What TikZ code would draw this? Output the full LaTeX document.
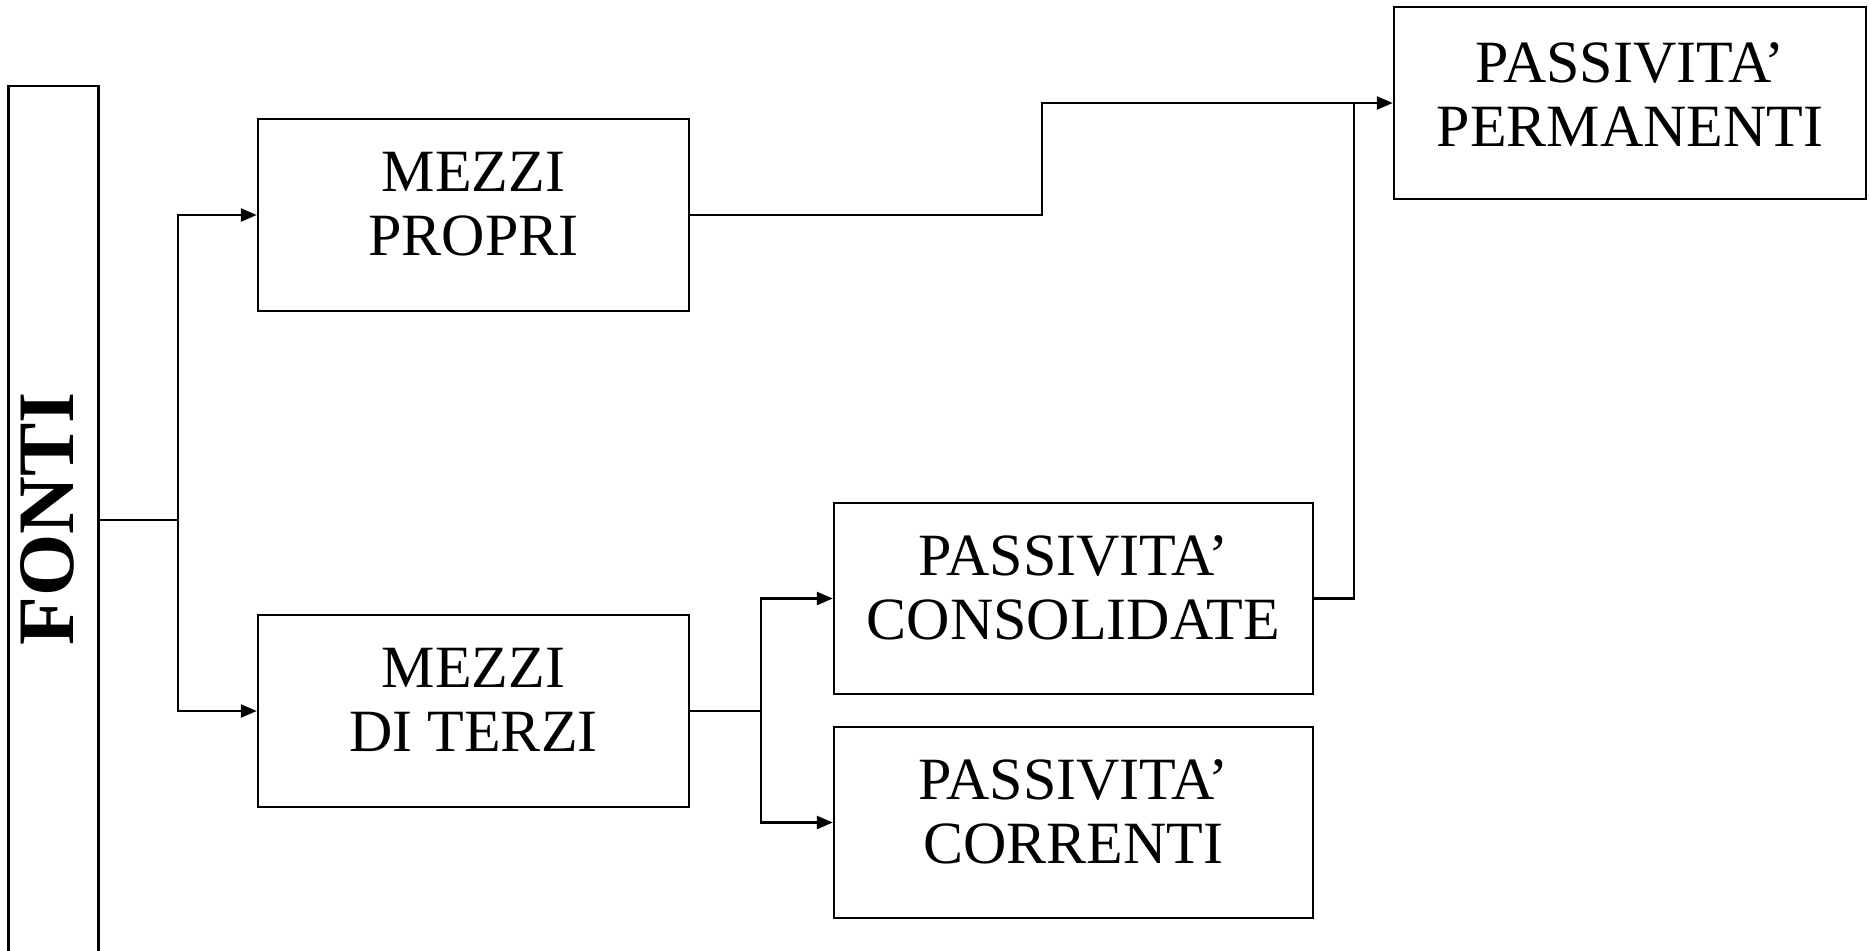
\documentclass[tikz,border=0pt]{standalone}
\usepackage{fontspec}
\setmainfont{Liberation Serif}
\usepackage{graphicx}
\usetikzlibrary{arrows.meta}
\begin{document}
\begin{tikzpicture}[x=1pt,y=-1pt,
  box/.style={draw=black, line width=2.4pt, rectangle, inner sep=0pt, align=center,
    font=\fontsize{60}{64}\selectfont, text depth=22pt},
  conn/.style={line width=2.4pt},
  arr/.style={conn, -{Triangle[length=16pt,width=13pt]}}]
\useasboundingbox (0,0) rectangle (1870,950);
% nodes
\node[draw=black, line width=2.4pt, rectangle, inner sep=0pt, minimum width=90pt, minimum height=868pt] (fonti) at (53.3,520) {};
\node[inner sep=0pt, font=\fontsize{80}{80}\selectfont\bfseries] (fontilabel) at (47,519) {\rotatebox{90}{FONTI}};
\node[box, minimum width=431pt, minimum height=192pt] (mp) at (473.5,215) {MEZZI\\PROPRI};
\node[box, minimum width=431pt, minimum height=192pt] (mt) at (473.5,711) {MEZZI\\DI TERZI};
\node[box, minimum width=479pt, minimum height=191pt] (pc) at (1073.5,598.5) {PASSIVITA’\\CONSOLIDATE};
\node[box, minimum width=479pt, minimum height=191pt] (pcr) at (1073.5,822.5) {PASSIVITA’\\CORRENTI};
\node[box, minimum width=472pt, minimum height=192pt, text depth=16pt] (pp) at (1630,103) {PASSIVITA’\\PERMANENTI};
% junctions
\coordinate (ja) at (178,520);
\coordinate (jb) at (761,711);
\coordinate (jc) at (1042,103);
\coordinate (jd) at (1354,103);
% connectors
\draw[conn] (fonti.east) -- (ja);
\draw[arr] (ja) |- (mp.west);
\draw[arr] (ja) |- (mt.west);
\draw[conn] (mt.east) -- (jb);
\draw[arr] (jb) |- (pc.west);
\draw[arr] (jb) |- (pcr.west);
\draw[arr] (mp.east) -| (jc) -- (pp.west);
\draw[conn] (pc.east) -| (jd);
\end{tikzpicture}
\end{document}
